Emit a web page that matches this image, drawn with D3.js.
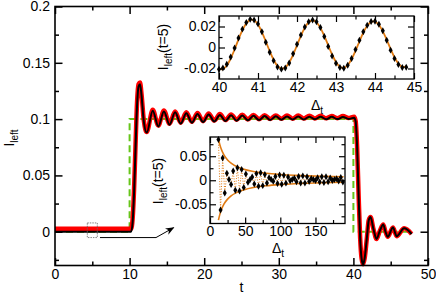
<!DOCTYPE html>
<html><head><meta charset="utf-8">
<script src="https://cdn.jsdelivr.net/npm/d3@7"></script>
<style>body{margin:0;background:#fff}svg{display:block}text{font-family:"Liberation Sans",Arial,sans-serif;fill:#000}</style>
</head><body><svg id="c" width="436" height="296"></svg>
<script>
// ---------------- DATA ----------------
// main panel: time t and current I_left
const mainT = [0,10.2,10.4,10.6,10.8,11.0,11.2,11.4,11.6,11.9,12.3,
  13.1,13.85,14.6,15.35,16.1,16.85,17.6,18.35,19.1,19.85,20.6,21.35,22.1,22.85,23.6,24.35,25.1,25.85,26.6,27.35,28.1,28.85,29.6,30.35,31.1,31.85,32.6,33.35,34.1,34.85,35.6,36.35,37.1,37.85,38.6,39.35,
  40.1,40.3,40.5,40.7,40.9,41.1,41.3,41.5,41.8,42.05,42.3,42.7,43.1,43.55,44.0,44.3,44.6,45.3,45.8,46.8,47.8];
const blackI = [0,0,0.008,0.035,0.075,0.112,0.129,0.131,0.121,0.098,0.088,
  0.1075,0.0935,0.1068,0.0950,0.1060,0.0960,0.1052,0.0968,0.1046,0.0974,0.1041,0.0979,0.1037,0.0983,0.1034,0.0986,0.1031,0.0989,0.1029,0.0991,0.1027,0.0993,0.1025,0.0995,0.1024,0.0996,0.1023,0.0997,0.1022,0.0998,0.1021,0.0999,0.1020,0.1000,0.1019,0.1001,
  0.1012,0.098,0.075,0.032,-0.005,-0.024,-0.029,-0.024,-0.006,0.010,0.013,0.002,-0.0065,0.001,0.0065,0.000,-0.0045,0.0037,-0.004,0.003,-0.002];
const redI = [0.0026,0.0026,0.011,0.038,0.078,0.115,0.131,0.1325,0.122,0.099,0.0885,
  0.1083,0.0943,0.1076,0.0958,0.1068,0.0968,0.1060,0.0976,0.1054,0.0982,0.1049,0.0987,0.1045,0.0991,0.1042,0.0994,0.1039,0.0997,0.1037,0.0999,0.1035,0.1001,0.1033,0.1003,0.1032,0.1004,0.1031,0.1005,0.1030,0.1006,0.1029,0.1007,0.1028,0.1008,0.1027,0.1009,
  0.1020,0.0985,0.075,0.032,-0.005,-0.024,-0.029,-0.024,-0.006,0.010,0.013,0.002,-0.0065,0.001,0.0065,0.000,-0.0045,0.0037,-0.004,0.003,-0.002];
const stepT = [0,10,10,40,40,47.8];
const stepI = [0,0,0.1,0.1,0,0];
const mainXTicks = [0,10,20,30,40,50];
const mainXLabels = ["0","10","20","30","40","50"];
const mainXMinor = [5,15,25,35,45];
const mainYTicks = [0,0.05,0.1,0.15,0.2];
const mainYLabels = ["0","0.05","0.1","0.15","0.2"];
const mainYMinor = [-0.025,0.025,0.075,0.125,0.175];

// inset 1: I_left(t=5) vs Δt, 40..45
const in1D = [40.0,40.1,40.2,40.3,40.4,40.5,40.6,40.7,40.8,40.9,41.0,41.1,41.2,41.3,41.4,41.5,41.6,41.7,41.8,41.9,42.0,42.1,42.2,42.3,42.4,42.5,42.6,42.7,42.8,42.9,43.0,43.1,43.2,43.3,43.4,43.5,43.6,43.7,43.8,43.9,44.0,44.1,44.2,44.3,44.4,44.5,44.6,44.7,44.8];
const in1Fit = [-0.0203,-0.0206,-0.0172,-0.0105,-0.0018,0.0078,0.0165,0.0230,0.0263,0.0259,0.0218,0.0147,0.0058,-0.0035,-0.0117,-0.0176,-0.0201,-0.0190,-0.0143,-0.0069,0.0021,0.0111,0.0189,0.0240,0.0258,0.0239,0.0187,0.0110,0.0021,-0.0067,-0.0138,-0.0183,-0.0193,-0.0168,-0.0111,-0.0032,0.0057,0.0141,0.0207,0.0244,0.0247,0.0216,0.0154,0.0074,-0.0014,-0.0094,-0.0153,-0.0184,-0.0180];
const in1Dots = [-0.0208,-0.0195,-0.0160,-0.0090,-0.0005,0.0090,0.0175,0.0238,0.0268,0.0262,0.0225,0.0150,0.0050,-0.0045,-0.0125,-0.0185,-0.0206,-0.0195,-0.0148,-0.0060,0.0030,0.0120,0.0196,0.0245,0.0262,0.0245,0.0190,0.0105,0.0010,-0.0080,-0.0150,-0.0190,-0.0198,-0.0170,-0.0105,-0.0020,0.0070,0.0150,0.0212,0.0248,0.0250,0.0222,0.0160,0.0070,-0.0025,-0.0105,-0.0162,-0.0190,-0.0188];
const in1XTicks = [40,41,42,43,44,45];
const in1XLabels = ["40","41","42","43","44","45"];
const in1XMinor = [40.5,41.5,42.5,43.5,44.5];
const in1YTicks = [-0.02,0,0.02];
const in1YLabels = ["-0.02","0","0.02"];
const in1YMinor = [-0.01,0.01];

// inset 2: I_left(t=5) vs Δt, 0..190
const in2EnvD = [12,14,16,18,20,25,30,40,50,60,80,100,120,140,160,190];
const in2EnvUp = [0.0860,0.0740,0.0650,0.0580,0.0523,0.0423,0.0355,0.0271,0.0221,0.0187,0.0145,0.0120,0.0103,0.0091,0.0082,0.0072];
const in2EnvLo = [-0.0830,-0.0710,-0.0620,-0.0550,-0.0493,-0.0393,-0.0325,-0.0241,-0.0191,-0.0157,-0.0115,-0.0090,-0.0073,-0.0061,-0.0052,-0.0042];
const in2D = [12,15,18,21,24,27,30,33,36,39,42,45,48,51,54,57,60,63,66,69,72,75,78,81,84,87,90,93,96,99,102,105,108,111,114,117,120,123,126,129,132,135,138,141,144,147,150,153,156,159,162,165,168,171,174,177,180,183,186,189];
const in2I = [0.0848,-0.0619,0.0465,-0.0265,0.0144,0.0015,-0.0088,0.0193,-0.0210,0.0259,-0.0223,0.0226,-0.0153,0.0130,-0.0042,0.0015,0.0067,-0.0078,0.0138,-0.0123,0.0154,-0.0112,0.0119,-0.0057,0.0052,0.0015,-0.0019,0.0078,-0.0069,0.0111,-0.0083,0.0105,-0.0060,0.0068,-0.0012,0.0015,0.0041,-0.0033,0.0079,-0.0059,0.0091,-0.0055,0.0073,-0.0027,0.0036,0.0015,-0.0006,0.0053,-0.0037,0.0075,-0.0047,0.0073,-0.0033,0.0049,-0.0003,0.0015,0.0032,-0.0017,0.0059,-0.0035];
const in2XTicks = [0,50,100,150];
const in2XLabels = ["0","50","100","150"];
const in2XMinor = [25,75,125,175];
const in2YTicks = [-0.05,0,0.05];
const in2YLabels = ["-0.05","0","0.05"];
const in2YMinor = [-0.075,-0.025,0.025,0.075];

// ---------------- DRAW ----------------
const svg = d3.select("#c");
const GREEN = "#66c51a", ORANGE = "#e07a12", RED = "#ff0000";

function frameAxes(g, x, y, o) {
  const [x0, x1] = x.range(), [y0, y1] = y.range();
  const fmt = (ticks, labels) => (d => labels[ticks.indexOf(d)]);
  const mk = (axisFn, scale, vals, size, lab, labs, pad) => {
    const a = axisFn(scale).tickValues(vals).tickSize(-size).tickPadding(pad);
    a.tickFormat(lab ? fmt(vals, labs) : () => "");
    return a;
  };
  const addAxis = (a, tx, ty) => {
    const s = g.append("g").attr("transform", `translate(${tx},${ty})`).call(a);
    s.select(".domain").remove();
    s.selectAll("line").attr("stroke", "#000").attr("stroke-width", o.tw);
    s.selectAll("text").attr("font-size", o.fs).attr("fill", "#000").attr("font-family", '"Liberation Sans",Arial,sans-serif');
    return s;
  };
  addAxis(mk(d3.axisBottom, x, o.xMinor, o.minor, false, null, 0), 0, y0);
  addAxis(mk(d3.axisBottom, x, o.xTicks, o.major, true, o.xLabels, o.xPad), 0, y0);
  addAxis(mk(d3.axisTop, x, o.xMinor, o.minor, false, null, 0), 0, y1);
  addAxis(mk(d3.axisTop, x, o.xTicks, o.major, false, null, 0), 0, y1);
  addAxis(mk(d3.axisLeft, y, o.yMinor, o.minor, false, null, 0), x0, 0);
  addAxis(mk(d3.axisLeft, y, o.yTicks, o.major, true, o.yLabels, o.yPad), x0, 0);
  addAxis(mk(d3.axisRight, y, o.yMinor, o.minor, false, null, 0), x1, 0);
  addAxis(mk(d3.axisRight, y, o.yTicks, o.major, false, null, 0), x1, 0);
  g.append("rect").attr("x", x0).attr("y", y1).attr("width", x1 - x0).attr("height", y0 - y1)
    .attr("fill", "none").attr("stroke", "#000").attr("stroke-width", o.fw);
}

// ---- main panel ----
const X = d3.scaleLinear().domain([0, 50]).range([55, 428]);
const Y = d3.scaleLinear().domain([-0.03, 0.2]).range([265.5, 6.5]);
const gm = svg.append("g");
gm.append("rect").attr("x", 55).attr("y", 6.5).attr("width", 373).attr("height", 259).attr("fill", "#fff");

const stepPts = stepT.map((t, i) => [t, stepI[i]]);
gm.append("path").attr("d", d3.line().x(d => X(d[0])).y(d => Y(d[1]))(stepPts))
  .attr("fill", "none").attr("stroke", GREEN).attr("stroke-width", 2).attr("stroke-dasharray", "7,4");

const lineM = d3.line().x(d => X(d[0])).y(d => Y(d[1])).curve(d3.curveMonotoneX);
gm.append("path").attr("d", lineM(mainT.map((t, i) => [t, redI[i]])))
  .attr("fill", "none").attr("stroke", RED).attr("stroke-width", 4.5).attr("stroke-linejoin", "round");
gm.append("path").attr("d", lineM(mainT.map((t, i) => [t, blackI[i]])))
  .attr("fill", "none").attr("stroke", "#000").attr("stroke-width", 2).attr("stroke-linejoin", "round");

// zoom box and arrow
const boxT = [4.33, 5.67], boxI = [-0.0052, 0.0078];
gm.append("rect").attr("x", X(boxT[0])).attr("y", Y(boxI[1]))
  .attr("width", X(boxT[1]) - X(boxT[0])).attr("height", Y(boxI[0]) - Y(boxI[1]))
  .attr("fill", "none").attr("stroke", "#666").attr("stroke-width", 0.8).attr("stroke-dasharray", "1.5,1");
svg.append("defs").append("marker").attr("id", "ah").attr("viewBox", "0 0 10 10")
  .attr("refX", 9).attr("refY", 5).attr("markerWidth", 9).attr("markerHeight", 9)
  .attr("markerUnits", "userSpaceOnUse").attr("orient", "auto")
  .append("path").attr("d", "M0,1 L10,5 L0,9 L3,5 Z").attr("fill", "#000");
const arrowPts = [[6.03, -0.0052], [13.54, -0.0052], [15.9, 0.0036]];
gm.append("path").attr("d", d3.line().x(d => X(d[0])).y(d => Y(d[1]))(arrowPts))
  .attr("fill", "none").attr("stroke", "#000").attr("stroke-width", 1).attr("marker-end", "url(#ah)");

frameAxes(gm, X, Y, { xTicks: mainXTicks, xLabels: mainXLabels, xMinor: mainXMinor,
  yTicks: mainYTicks, yLabels: mainYLabels, yMinor: mainYMinor,
  major: 7.5, minor: 4, tw: 1.5, fw: 1.6, fs: 14, xPad: 4, yPad: 5 });

gm.append("text").attr("x", X(25)).attr("y", 292).attr("text-anchor", "middle").attr("font-size", 14).text("t");
const yl = gm.append("text").attr("transform", "translate(14,138) rotate(-90)").attr("text-anchor", "middle").attr("font-size", 14);
yl.append("tspan").text("I");
yl.append("tspan").attr("dy", 4).attr("font-size", 10).text("left");

// ---- inset 1 ----
const X1 = d3.scaleLinear().domain([40, 45]).range([219, 414]);
const Y1 = d3.scaleLinear().domain([-0.03, 0.03]).range([79, 16]);
const g1 = svg.append("g");
g1.append("rect").attr("x", 219).attr("y", 16).attr("width", 195).attr("height", 63).attr("fill", "#fff");
g1.append("path").attr("d", d3.line().x((d, i) => X1(in1D[i])).y(d => Y1(d)).curve(d3.curveCatmullRom)(in1Fit))
  .attr("fill", "none").attr("stroke", ORANGE).attr("stroke-width", 1.8);
g1.selectAll("path.dot").data(in1Dots).enter().append("path").attr("class", "dot")
  .attr("d", d3.symbol(d3.symbolDiamond, 14))
  .attr("transform", (d, i) => `translate(${X1(in1D[i])},${Y1(d)})`).attr("fill", "#000");
frameAxes(g1, X1, Y1, { xTicks: in1XTicks, xLabels: in1XLabels, xMinor: in1XMinor,
  yTicks: in1YTicks, yLabels: in1YLabels, yMinor: in1YMinor,
  major: 6, minor: 3.5, tw: 1.2, fw: 1.3, fs: 14, xPad: 3, yPad: 3 });
const dl1 = g1.append("text").attr("x", 317).attr("y", 110).attr("text-anchor", "middle").attr("font-size", 14);
dl1.append("tspan").text("Δ");
dl1.append("tspan").attr("dy", 4).attr("font-size", 10).text("t");
const yl1 = g1.append("text").attr("transform", "translate(168,47) rotate(-90)").attr("text-anchor", "middle").attr("font-size", 14);
yl1.append("tspan").text("I");
yl1.append("tspan").attr("dy", 4).attr("font-size", 10).text("left");
yl1.append("tspan").attr("dy", -4).text("(t=5)");

// ---- inset 2 ----
const X2 = d3.scaleLinear().domain([0, 192]).range([210, 345]);
const Y2 = d3.scaleLinear().domain([-0.09, 0.09]).range([223.5, 137]);
const g2 = svg.append("g");
g2.append("rect").attr("x", 210).attr("y", 137).attr("width", 135).attr("height", 86.5).attr("fill", "#fff");
g2.append("path").attr("d", d3.line().x((d, i) => X2(in2D[i])).y(d => Y2(d))(in2I))
  .attr("fill", "none").attr("stroke", ORANGE).attr("stroke-width", 1).attr("stroke-dasharray", "1,1.6");
const envLine = d3.line().x((d, i) => X2(in2EnvD[i])).y(d => Y2(d)).curve(d3.curveMonotoneX);
g2.append("path").attr("d", envLine(in2EnvUp)).attr("fill", "none").attr("stroke", ORANGE).attr("stroke-width", 1.6);
g2.append("path").attr("d", envLine(in2EnvLo)).attr("fill", "none").attr("stroke", ORANGE).attr("stroke-width", 1.6);
g2.selectAll("path.dot").data(in2I).enter().append("path").attr("class", "dot")
  .attr("d", d3.symbol(d3.symbolDiamond, 14))
  .attr("transform", (d, i) => `translate(${X2(in2D[i])},${Y2(d)})`).attr("fill", "#000");
frameAxes(g2, X2, Y2, { xTicks: in2XTicks, xLabels: in2XLabels, xMinor: in2XMinor,
  yTicks: in2YTicks, yLabels: in2YLabels, yMinor: in2YMinor,
  major: 6, minor: 3.5, tw: 1.2, fw: 1.3, fs: 14, xPad: 3, yPad: 3 });
const dl2 = g2.append("text").attr("x", 278).attr("y", 253).attr("text-anchor", "middle").attr("font-size", 14);
dl2.append("tspan").text("Δ");
dl2.append("tspan").attr("dy", 4).attr("font-size", 10).text("t");
const yl2 = g2.append("text").attr("transform", "translate(163,181) rotate(-90)").attr("text-anchor", "middle").attr("font-size", 14);
yl2.append("tspan").text("I");
yl2.append("tspan").attr("dy", 4).attr("font-size", 10).text("left");
yl2.append("tspan").attr("dy", -4).text("(t=5)");
</script></body></html>
